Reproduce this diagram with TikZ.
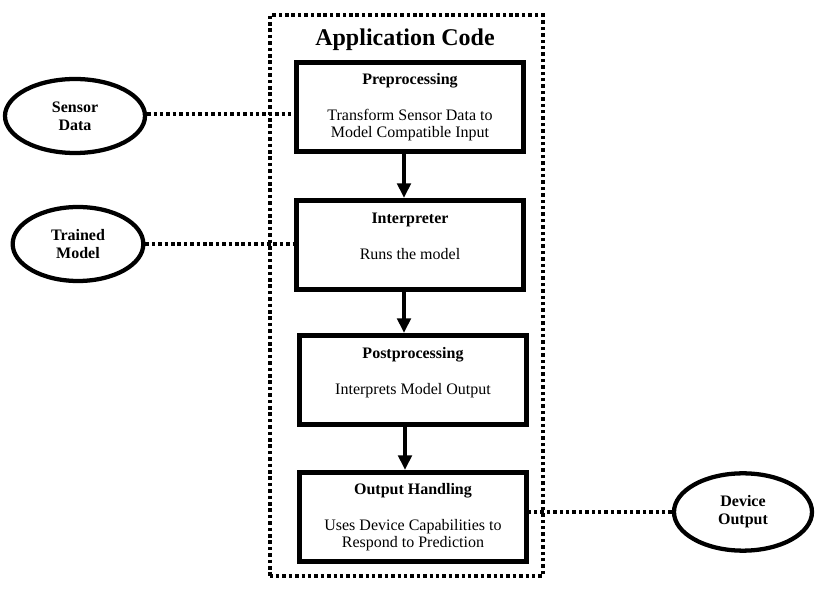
\documentclass[tikz,border=0pt]{standalone}
\usepackage{fontspec}
\setmainfont{Liberation Serif}
\usetikzlibrary{positioning,shapes.geometric,arrows.meta}

\begin{document}
\begin{tikzpicture}[x=0.75pt,y=-0.75pt,
  every node/.style={align=center,font=\fontsize{12}{13}\selectfont},
  stage/.style={draw,line width=3.5pt,minimum width=170pt,minimum height=67pt,inner sep=0pt},
  source/.style={draw,ellipse,line width=3.2pt,minimum width=105pt,minimum height=55.5pt,inner sep=0pt,
    font=\fontsize{12}{13.5}\selectfont\bfseries},
  dots/.style={line width=3pt,dash pattern=on 2.6pt off 2.2pt},
  flow/.style={line width=3.6pt,-{Triangle[width=10pt,length=11pt]}}
]
\useasboundingbox (0,0) rectangle (826,598);

% application code frame
\node[draw,dots,minimum width=204.75pt,minimum height=420.75pt] (app) at (406,296) {};
\node[font=\fontsize{18}{20}\selectfont\bfseries] (apptitle) at (405,40) {Application Code};

% pipeline stages
\node[stage] (pre) at (410,107) {\textbf{Preprocessing}\\[14pt]Transform Sensor Data to\\Model Compatible Input};
\node[stage] (interp) at (410,245) {\textbf{Interpreter}\\[14pt]Runs the model\\\mbox{}};
\node[stage] (post) at (413,380) {\textbf{Postprocessing}\\[14pt]Interprets Model Output\\\mbox{}};
\node[stage] (outh) at (413,517) {\textbf{Output Handling}\\[14pt]Uses Device Capabilities to\\Respond to Prediction};

% inputs and outputs
\node[source] (sensor) at (75,116) {Sensor\\Data};
\node[source,minimum width=98pt] (model) at (78,244) {Trained\\Model};
\node[source,minimum width=103.5pt,minimum height=58pt] (device) at (743,512) {Device\\Output};

% flow between stages
\draw[flow] ([xshift=-4.5pt]pre.south) -- ([xshift=-4.5pt]pre.south |- interp.north);
\draw[flow] ([xshift=-4.5pt]interp.south) -- ([xshift=-4.5pt]interp.south |- post.north);
\draw[flow] ([xshift=-6pt]post.south) -- ([xshift=-6pt]post.south |- outh.north);

% dotted links
\draw[dots] ([yshift=1.5pt]sensor.east) -- ([yshift=1.5pt]sensor.east -| pre.west);
\draw[dots] (model.east) -- (model.east -| interp.west);
\draw[dots] (device.west) -- (device.west -| outh.east);
\end{tikzpicture}
\end{document}
